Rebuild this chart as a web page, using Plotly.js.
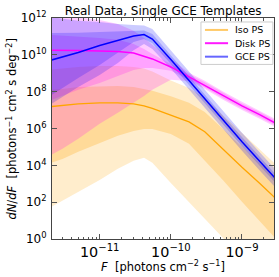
<!DOCTYPE html>
<html><head><meta charset="utf-8">
<script src="https://cdn.plot.ly/plotly-3.0.1.min.js"></script>
<style>html,body{margin:0;padding:0;background:#fff}#chart{width:279px;height:277px}</style>
</head><body><div id="chart"></div>
<script>
// Flux grid (photons cm^-2 s^-1)
const flux = [2.1e-12, 3e-12, 5e-12, 1e-11, 1.8e-11, 3e-11, 4.2e-11, 5.5e-11, 1e-10, 1.8e-10, 3e-10, 5.5e-10, 1e-9, 1.8e-9, 2.9e-9];

// Iso PS
const isoMed  = [1.55e7, 1.78e7, 2.2e7, 2.45e7, 2.45e7, 2.2e7, 1.7e7, 1.23e7, 5.5e6, 2.3e6, 6.6e5, 6.9e4, 7.8e3, 1.0e3, 1.74e2];
const iso68Hi = [1.26e8, 1.4e8, 1.8e8, 2.0e8, 2.0e8, 1.8e8, 1.4e8, 1.12e8, 5.6e7, 2.5e7, 7.9e6, 8.9e5, 1.0e5, 1.26e4, 2.2e3];
const iso68Lo = [1.4e4, 2.2e4, 5.4e4, 1.66e5, 4.0e5, 7.4e5, 9.5e5, 9.5e5, 5.1e5, 1.5e5, 1.8e4, 1.45e3, 1.05e2, 9.1, 1.17];
const iso95Hi = [1.6e9, 1.8e9, 2.2e9, 2.5e9, 2.5e9, 2.2e9, 1.8e9, 1.26e9, 4.0e8, 1.6e8, 4.5e7, 5.0e6, 5.6e5, 7.1e4, 1.26e4];
const iso95Lo = [56, 120, 360, 1.6e3, 6.5e3, 1.8e4, 2.6e4, 1.4e4, 1.1e3, 105, 12.6, 1.05, 0.1, 0.009, 0.0013];

// Disk PS
const diskMed  = [1.8e10, 1.8e10, 1.74e10, 1.62e10, 1.51e10, 1.26e10, 8.7e9, 6.0e9, 2.2e9, 6.3e8, 2.3e8, 5.9e7, 1.7e7, 5.5e6, 2.0e6];
const disk68Hi = [1.2e11, 1.12e11, 1.0e11, 8.3e10, 6.5e10, 3.9e10, 2.1e10, 1.12e10, 3.2e9, 8.7e8, 3.2e8, 8.1e7, 2.3e7, 7.6e6, 2.8e6];
const disk68Lo = [3.5e7, 5.9e7, 1.26e8, 3.0e8, 7.1e8, 1.5e9, 1.95e9, 1.95e9, 1.35e9, 4.6e8, 1.7e8, 4.3e7, 1.23e7, 4.0e6, 1.5e6];
const disk95Hi = [1.6e12, 1.45e12, 1.1e12, 7.8e11, 4.7e11, 2.0e11, 8.3e10, 3.5e10, 6.0e9, 1.05e9, 3.9e8, 9.8e7, 2.8e7, 9.1e6, 3.4e6];
const disk95Lo = [3.7e4, 7.9e4, 2.75e5, 1.8e6, 7.1e6, 2.5e7, 5.9e7, 1.26e8, 4.4e8, 3.8e8, 1.4e8, 3.5e7, 1.0e7, 3.3e6, 1.23e6];

// GCE PS
const gceMed  = [5.2e9, 7.7e9, 1.35e10, 3.2e10, 6.0e10, 1.05e11, 1.26e11, 7.2e10, 5.6e9, 4.1e8, 4.1e7, 2.6e6, 1.9e5, 1.55e4, 2.1e3];
const gce68Hi = [1.55e11, 1.55e11, 1.6e11, 1.75e11, 1.85e11, 2.0e11, 2.1e11, 1.35e11, 9.8e9, 7.1e8, 7.1e7, 4.5e6, 3.3e5, 2.7e4, 3.6e3];
const gce68Lo = [6.6e7, 1.6e8, 5.6e8, 2.8e9, 1.26e10, 5.0e10, 7.2e10, 4.2e10, 3.2e9, 2.3e8, 2.3e7, 1.5e6, 1.1e5, 8.9e3, 1.2e3];
const gce95Hi = [1.1e12, 8.9e11, 7.2e11, 6.0e11, 4.7e11, 4.2e11, 3.9e11, 2.5e11, 1.75e10, 1.26e9, 1.26e8, 7.9e6, 5.9e5, 4.8e4, 6.5e3];
const gce95Lo = [2.2e7, 5.2e7, 1.8e8, 8.1e8, 3.6e9, 1.8e10, 3.9e10, 2.1e10, 1.8e9, 1.3e8, 1.3e7, 8.3e5, 6.2e4, 5.0e3, 6.8e2];

const seriesNames = ['Iso PS', 'Disk PS', 'GCE PS'];
const legendColors = ['rgba(255,165,0,0.6)', 'rgba(255,0,255,0.9)', 'rgba(0,0,255,0.6)'];
const yTickVals = [1, 1e2, 1e4, 1e6, 1e8, 1e10, 1e12];
const yTickText = ['10<sup>0</sup>', '10<sup>2</sup>', '10<sup>4</sup>', '10<sup>6</sup>', '10<sup>8</sup>', '10<sup>10</sup>', '10<sup>12</sup>'];

function band(lo, hi, color) {
  return [
    {x: flux, y: lo, mode: 'lines', line: {width: 0, color: 'rgba(0,0,0,0)'}, showlegend: false, hoverinfo: 'skip'},
    {x: flux, y: hi, mode: 'lines', line: {width: 0, color: 'rgba(0,0,0,0)'}, fill: 'tonexty', fillcolor: color, showlegend: false, hoverinfo: 'skip'}
  ];
}
function line(y, color, w, name) {
  return {x: flux, y: y, mode: 'lines', name: name, line: {color: color, width: w}, showlegend: false};
}

const data = [].concat(
  band(iso95Lo, iso95Hi, 'rgba(255,165,0,0.2)'),
  band(iso68Lo, iso68Hi, 'rgba(255,165,0,0.25)'),
  band(disk95Lo, disk95Hi, 'rgba(255,0,255,0.2)'),
  band(disk68Lo, disk68Hi, 'rgba(255,0,255,0.2)'),
  band(gce95Lo, gce95Hi, 'rgba(0,0,255,0.2)'),
  band(gce68Lo, gce68Hi, 'rgba(0,0,255,0.2)'),
  [line(isoMed, '#ffa500', 1.3, seriesNames[0]), line(diskMed, '#ff00ff', 1.5, seriesNames[1]), line(gceMed, '#0000ff', 1.5, seriesNames[2])]
);

// Legend drawn as a framed box (paper coordinates)
const lgX0 = 0.671, lgX1 = 0.995, lgY0 = 0.790, lgY1 = 0.982;
const lgRowY = [0.946, 0.886, 0.825];
const shapes = [{type: 'rect', xref: 'paper', yref: 'paper', x0: lgX0, x1: lgX1, y0: lgY0, y1: lgY1,
  line: {color: '#cccccc', width: 1}, fillcolor: 'rgba(255,255,255,0.85)', layer: 'above'}];
const annotations = [];
seriesNames.forEach((n, i) => {
  shapes.push({type: 'line', xref: 'paper', yref: 'paper', x0: 0.689, x1: 0.793, y0: lgRowY[i], y1: lgRowY[i],
    line: {color: legendColors[i], width: 2}, layer: 'above'});
  annotations.push({text: n, xref: 'paper', yref: 'paper', x: 0.815, y: lgRowY[i], xanchor: 'left', yanchor: 'middle',
    showarrow: false, font: {family: 'DejaVu Sans', size: 9.5, color: '#000'}});
});
annotations.push(
  {text: '<i>dN</i>/<i>dF</i>  [photons<sup>−1</sup> cm<sup>2</sup> s deg<sup>−2</sup>]', xref: 'paper', yref: 'paper', x: -0.18, y: 0.5, textangle: -90, showarrow: false, xanchor: 'center', yanchor: 'middle', font: {family: 'DejaVu Sans', size: 11.5, color: '#000'}},
  {text: '<i>F</i>  [photons cm<sup>−2</sup> s<sup>−1</sup>]', xref: 'paper', yref: 'paper', x: 0.5, y: -0.125, showarrow: false, xanchor: 'center', yanchor: 'middle', font: {family: 'DejaVu Sans', size: 11.5, color: '#000'}}
);

const layout = {
  width: 279, height: 277,
  margin: {l: 52, r: 5, t: 18, b: 38},
  paper_bgcolor: '#fff', plot_bgcolor: '#fff',
  font: {family: 'DejaVu Sans', size: 12, color: '#000'},
  showlegend: false,
  title: {text: 'Real Data, Single GCE Templates', font: {family: 'DejaVu Sans', size: 12, color: '#000'}, x: 0.585, xanchor: 'center', y: 0.962, yanchor: 'middle', yref: 'container', xref: 'container'},
  xaxis: {
    type: 'log', range: [-11.67, -8.55], dtick: 1, exponentformat: 'power',
    ticks: 'inside', ticklen: 5, tickwidth: 1, tickcolor: '#555',
    showline: true, linecolor: '#444', linewidth: 1, mirror: 'allticks',
    showgrid: false, zeroline: false, ticklabelstandoff: 0,
    minor: {dtick: 'D1', ticks: 'inside', ticklen: 2.5, tickcolor: '#555', showgrid: false},
    tickfont: {family: 'DejaVu Sans', size: 11.5, color: '#000'}
  },
  yaxis: {
    type: 'log', range: [0, 12], tickmode: 'array', tickvals: yTickVals, ticktext: yTickText,
    ticks: 'inside', ticklen: 5, tickwidth: 1, tickcolor: '#555',
    showline: true, linecolor: '#444', linewidth: 1, mirror: 'allticks',
    showgrid: false, zeroline: false, ticklabelstandoff: 2,
    tickfont: {family: 'DejaVu Sans', size: 12, color: '#000'}
  },
  shapes: shapes,
  annotations: annotations
};
Plotly.newPlot('chart', data, layout, {staticPlot: true, displayModeBar: false});
</script></body></html>
